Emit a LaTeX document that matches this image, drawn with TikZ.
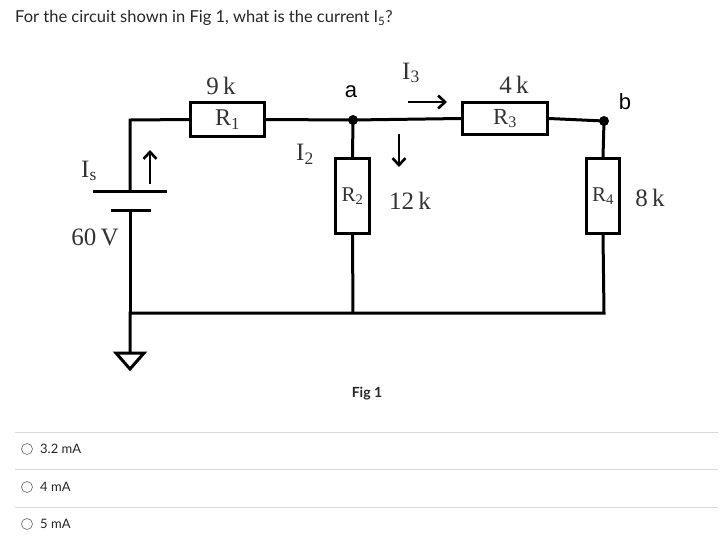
\documentclass[tikz,border=0pt]{standalone}
\usepackage{fontspec}
\usetikzlibrary{arrows.meta}
\setmainfont{Lato}
\newfontfamily\tnr{Liberation Serif}
\newfontfamily\arl{Liberation Sans}
\begin{document}
\begin{tikzpicture}[x=1pt,y=-1pt,
  w/.style={line width=3pt},
  res/.style={draw,line width=3pt,fill=white,minimum width=#1,inner sep=0pt},
  lab/.style={font=\tnr\fontsize{25}{25}\selectfont,text=black!80,inner sep=0pt},
  sl/.style={font=\arl\fontsize{22}{22}\selectfont,inner sep=0pt},
  arr/.style={line width=2.6pt,-{Straight Barb[length=7pt,width=13pt]}},
  opt/.style={font=\fontsize{13}{13}\selectfont,anchor=west,inner sep=0pt,text=black!85},
  rad/.style={draw=black!60,circle,minimum size=11pt,inner sep=0pt,line width=0.6pt},
  sep/.style={draw=black!15,line width=0.8pt}]
\useasboundingbox (0,0) rectangle (728,558);
\node[anchor=west,inner sep=0pt,font=\fontsize{16.5}{16.5}\selectfont,text=black!85] (title) at (15,18) {For the circuit shown in Fig 1, what is the current I\textsubscript{5}?};
% coordinates
\coordinate (tl) at (130,120);
\coordinate (a) at (353,120);
\coordinate (b) at (604,121);
\coordinate (bl) at (130,313);
\coordinate (ba) at (353,313);
\coordinate (bb) at (604,313);
\coordinate (p1) at (130,191);
\coordinate (p2) at (130,210);
\coordinate (g) at (130,353);
% resistors
\node[res=74pt,minimum height=34pt] (R1) at (227.5,119.5) {};
\node[res=85pt,minimum height=32pt] (R3) at (505,118.5) {};
\node[res=34pt,minimum height=75pt] (R2) at (352.5,196) {};
\node[res=33pt,minimum height=75pt] (R4) at (603,196) {};
% wires
\draw[w] (p1) -- (tl) -- (R1.west);
\draw[w] (R1.east) -- (a) -- (R3.west);
\draw[w] (R3.east) -- (b) -- (R4.north);
\draw[w] (a) -- (R2.north);
\draw[w] (R2.south) -- (ba);
\draw[w] (R4.south) -- (bb) -- (bl) -- (g);
\draw[w] (p2) -- (bl);
% battery
\draw[w] (93,191) -- (167,191);
\draw[w] (111,210) -- (151,210);
% ground
\draw[line width=3pt,line join=miter] (116,353) -- (144,353) -- (130,369) -- cycle;
% dots
\fill (a) circle (5pt);
\fill (b) circle (5pt);
% labels inside resistors
\node[lab,font=\tnr\fontsize{24}{24}\selectfont] at (R1) {R\textsubscript{1}};
\node[lab,font=\tnr\fontsize{23}{23}\selectfont] at (R3) {R\textsubscript{3}};
\node[lab,font=\tnr\fontsize{21}{21}\selectfont] at (R2) {R\textsubscript{2}};
\node[lab,font=\tnr\fontsize{21}{21}\selectfont] at (R4) {R\textsubscript{4}};
\node[lab] (k9) at (221,86) {9\,k};
\node[lab] (k4) at (514,85) {4\,k};
\node[lab] (k12) at (410,201) {12\,k};
\node[lab] (k8) at (650,198) {8\,k};
\node[lab] (I2) at (305,154) {I\textsubscript{2}};
\node[lab] (I3) at (411,73) {I\textsubscript{3}};
\node[lab] (Is) at (89,171) {I\textsubscript{s}};
\node[lab] (V) at (95,237) {60\,V};
\node[sl] (la) at (351,92) {a};
\node[sl] (lb) at (625,102) {b};
% arrows
\coordinate (s1) at (150,184); \coordinate (e1) at (150,150);
\draw[arr] (s1) -- (e1);
\coordinate (s2) at (399,134); \coordinate (e2) at (399,167);
\draw[arr] (s2) -- (e2);
\coordinate (s3) at (408,102); \coordinate (e3) at (447,102);
\draw[arr] (s3) -- (e3);
\node[font=\fontsize{14}{14}\selectfont\bfseries,inner sep=0pt,text=black!85] (fig) at (367,394) {Fig 1};
% options
\coordinate (l1a) at (15,432); \coordinate (l1b) at (718,432);
\coordinate (l2a) at (15,469); \coordinate (l2b) at (718,469);
\coordinate (l3a) at (15,507); \coordinate (l3b) at (718,507);
\draw[sep] (l1a) -- (l1b);
\draw[sep] (l2a) -- (l2b);
\draw[sep] (l3a) -- (l3b);
\node[rad] (c1) at (27,449) {};
\node[rad] (c2) at (27,487) {};
\node[rad] (c3) at (27,524) {};
\node[opt] (o1) at (40,449) {3.2 mA};
\node[opt] (o2) at (40,487) {4 mA};
\node[opt] (o3) at (40,524) {5 mA};
\end{tikzpicture}
\end{document}
